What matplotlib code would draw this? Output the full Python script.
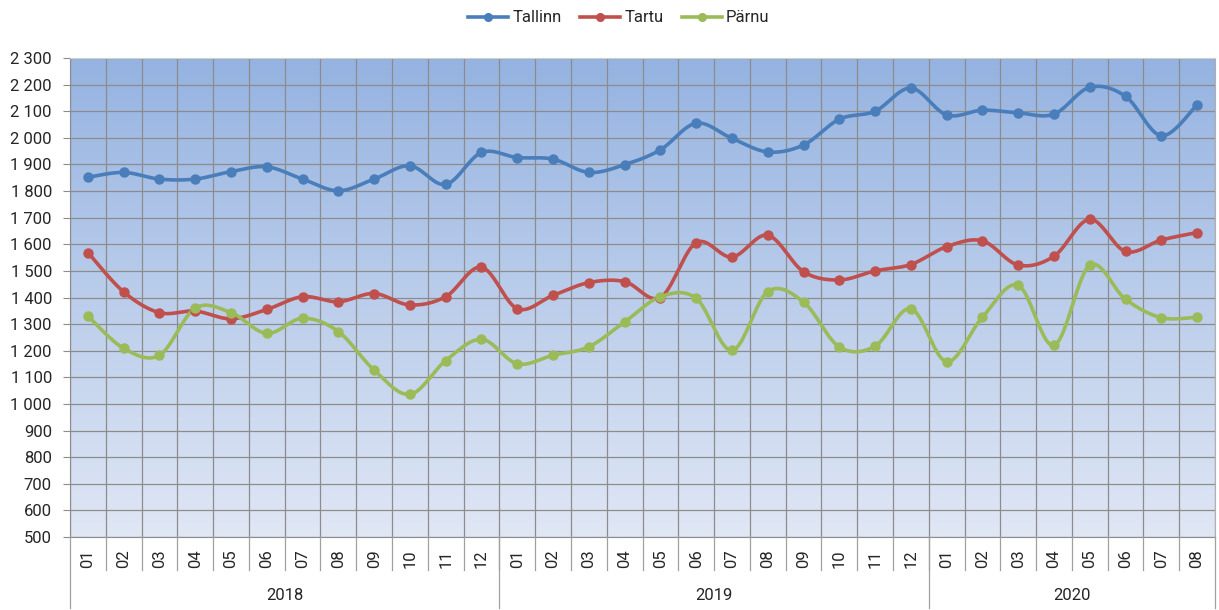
import matplotlib.pyplot as plt
from matplotlib.lines import Line2D
import matplotlib.transforms as mtransforms
import numpy as np

# Andmed (2018-01 ... 2020-08)
years = ["2018", "2019", "2020"]
months = ["01", "02", "03", "04", "05", "06", "07", "08", "09", "10", "11", "12",
          "01", "02", "03", "04", "05", "06", "07", "08", "09", "10", "11", "12",
          "01", "02", "03", "04", "05", "06", "07", "08"]
months_per_year = [12, 12, 8]

tallinn = [1852, 1870, 1845, 1845, 1873, 1891, 1845, 1801, 1845, 1895, 1825, 1945,
           1926, 1920, 1870, 1899, 1955, 2055, 1998, 1947, 1973, 2070, 2100, 2187,
           2086, 2104, 2094, 2089, 2190, 2156, 2008, 2124]
tartu = [1569, 1421, 1343, 1349, 1320, 1355, 1403, 1384, 1415, 1372, 1403, 1514,
         1358, 1408, 1456, 1460, 1400, 1606, 1552, 1634, 1497, 1466, 1500, 1524,
         1591, 1613, 1522, 1555, 1694, 1573, 1616, 1644]
parnu = [1330, 1209, 1183, 1360, 1343, 1265, 1322, 1272, 1127, 1036, 1163, 1243,
         1151, 1183, 1215, 1308, 1403, 1397, 1201, 1422, 1383, 1214, 1217, 1358,
         1159, 1326, 1446, 1220, 1521, 1393, 1324, 1326]

series = [("Tallinn", tallinn, "#4A7EBB"),
          ("Tartu", tartu, "#C0504D"),
          ("Pärnu", parnu, "#9BBB59")]


def smooth(x, y, n=24):
    # Catmull-Rom kaudu Bezier, nagu Exceli "smoothed line"
    p = np.column_stack([x, y]).astype(float)
    out = [p[0]]
    t = np.linspace(0, 1, n)[1:, None]
    for i in range(len(p) - 1):
        p0 = p[i - 1] if i > 0 else p[i]
        p1, p2 = p[i], p[i + 1]
        p3 = p[i + 2] if i + 2 < len(p) else p[i + 1]
        c1 = p1 + (p2 - p0) / 6
        c2 = p2 - (p3 - p1) / 6
        seg = ((1 - t) ** 3) * p1 + 3 * ((1 - t) ** 2) * t * c1 + 3 * (1 - t) * t ** 2 * c2 + t ** 3 * p2
        out.extend(seg)
    out = np.array(out)
    return out[:, 0], out[:, 1]


plt.rcParams['font.family'] = ['Roboto', 'DejaVu Sans']
plt.rcParams['font.size'] = 12
plt.rcParams['text.color'] = '#262626'

W, H = 1219, 610
fig = plt.figure(figsize=(W / 100, H / 100), dpi=100)
left, right, top, bottom = 70, 1215, 58, 537
ax = fig.add_axes([left / W, 1 - bottom / H, (right - left) / W, (bottom - top) / H])

n = len(months)
x = np.arange(n)
ax.set_xlim(-0.5, n - 0.5)
ax.set_ylim(500, 2300)

# taustagradient
top_c = np.array([149, 179, 225]) / 255
bot_c = np.array([224, 231, 245]) / 255
g = np.linspace(0, 1, 256)[:, None]
grad = (top_c * (1 - g) + bot_c * g).reshape(256, 1, 3)
ax.imshow(grad, extent=[-0.5, n - 0.5, 500, 2300], aspect='auto', zorder=0,
          interpolation='bilinear')

# ruudustik
for yv in range(500, 2301, 100):
    ax.axhline(yv, color='#8C8C8C', lw=0.9, zorder=1)
for k in range(n + 1):
    ax.axvline(k - 0.5, color='#8C8C8C', lw=0.9, zorder=1)

for name, vals, col in series:
    xs, ys = smooth(x, vals)
    ax.plot(xs, ys, color=col, lw=2.6, zorder=3, solid_capstyle='round')
    ax.plot(x, vals, 'o', color=col, ms=6.5, zorder=4)

ax.set_yticks(range(500, 2301, 100))
ax.set_yticklabels([f"{v:,}".replace(",", " ") for v in range(500, 2301, 100)])
ax.tick_params(axis='y', length=5, color='#8C8C8C', pad=8, labelsize=12,
               labelcolor='#262626')
ax.set_xticks([])
for s in ['left', 'bottom']:
    ax.spines[s].set_color('#8C8C8C')
ax.spines['top'].set_color('#D0D0D0')
ax.spines['right'].set_color('#B0B0B0')

# mitmetasemeline x-telg
trans = mtransforms.blended_transform_factory(ax.transData, fig.transFigure)
def fy(px):
    return 1 - px / H

for i, m in enumerate(months):
    ax.text(i, fy(559), m, transform=trans, rotation=90, ha='center', va='center',
            fontsize=12)
for k in range(1, n):
    fig.add_artist(Line2D([k - 0.5, k - 0.5], [fy(537), fy(570)], transform=trans,
                          color='#A0A0A0', lw=0.9))
start = 0
bounds = [0]
for yr, cnt in zip(years, months_per_year):
    ax.text(start + cnt / 2 - 0.5, fy(595), yr, transform=trans, ha='center',
            va='center', fontsize=12)
    start += cnt
    bounds.append(start)
for b in bounds:
    fig.add_artist(Line2D([b - 0.5, b - 0.5], [fy(537), fy(608)], transform=trans,
                          color='#A0A0A0', lw=0.9))

handles = [Line2D([], [], color=c, lw=2.6, marker='o', ms=5.5) for _, _, c in series]
fig.legend(handles, [s[0] for s in series], loc='center', bbox_to_anchor=(619 / W, fy(18)),
           ncol=3, frameon=False, fontsize=12, handlelength=2.4, columnspacing=1.1,
           handletextpad=0.25)

fig.savefig("out.png", dpi=100)
